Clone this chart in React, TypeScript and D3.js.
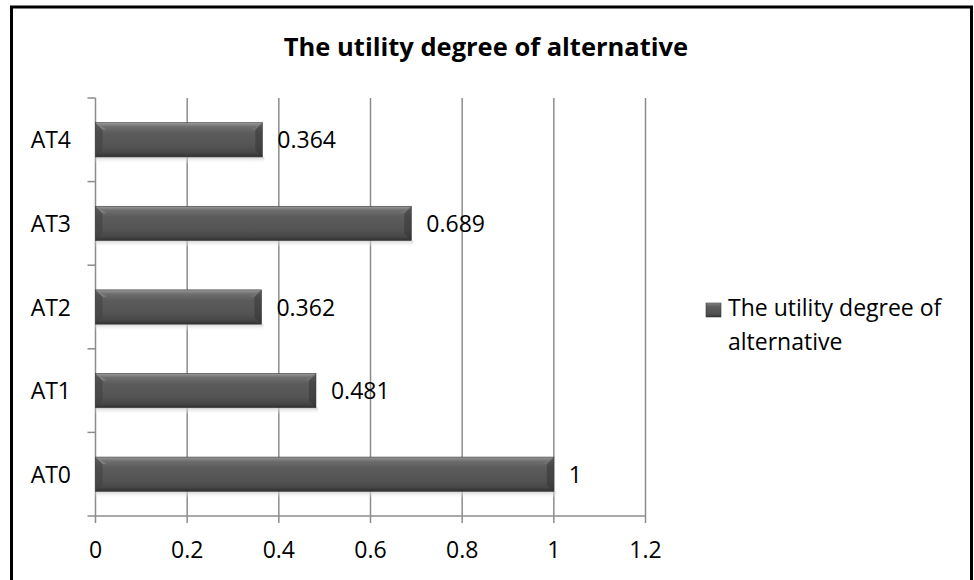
import React from "react";
import * as d3 from "d3";

const categories = ["AT0", "AT1", "AT2", "AT3", "AT4"];
const values = [1, 0.481, 0.362, 0.689, 0.364];
const valueLabels = ["1", "0.481", "0.362", "0.689", "0.364"];
const xTicks = [0, 0.2, 0.4, 0.6, 0.8, 1, 1.2];
const xTickLabels = ["0", "0.2", "0.4", "0.6", "0.8", "1", "1.2"];
const title = "The utility degree of alternative";
const legendLines = ["The utility degree of", "alternative"];

const W = 974;
const H = 580;
const FONT = "'Open Sans', Lato, sans-serif";
const LABEL_SIZE = 23;

export default function App() {
  const x = d3.scaleLinear().domain([0, 1.2]).range([95.5, 645.5]);
  const y = d3
    .scaleBand<string>()
    .domain([...categories].reverse())
    .range([98, 516])
    .paddingInner(0.59)
    .paddingOuter(0.295);
  const step = y.step();
  const bh = y.bandwidth();
  const grid = "#8c8c8c";
  const bev = 7;

  return (
    <svg width={W} height={H} style={{ position: "absolute", left: 0, top: 0 }} fontFamily={FONT}>
      <defs>
        <linearGradient id="barFill" x1="0" y1="0" x2="0" y2="1">
          <stop offset="0" stopColor="#9a9a9a" />
          <stop offset="0.12" stopColor="#6e6e6e" />
          <stop offset="0.3" stopColor="#5c5c5c" />
          <stop offset="0.7" stopColor="#535353" />
          <stop offset="0.88" stopColor="#474747" />
          <stop offset="1" stopColor="#303030" />
        </linearGradient>
        <linearGradient id="shadow" x1="0" y1="0" x2="0" y2="1">
          <stop offset="0" stopColor="#c8c8c8" stopOpacity="0.8" />
          <stop offset="1" stopColor="#ffffff" stopOpacity="0" />
        </linearGradient>
      </defs>
      <rect x={0} y={0} width={W} height={H} fill="#fff" />
      <rect x={11.5} y={7} width={960} height={600} fill="none" stroke="#000" strokeWidth={3} />

      <text x={486} y={56} textAnchor="middle" fontWeight="bold" fontSize={25.5} fill="#000">
        {title}
      </text>

      {/* vertical gridlines */}
      {xTicks.slice(1).map((t) => (
        <line key={"g" + t} x1={x(t)} x2={x(t)} y1={98} y2={523} stroke={grid} strokeWidth={1.5} />
      ))}
      {/* value axis baseline and category axis */}
      <line x1={x(0)} x2={x(1.2)} y1={516} y2={516} stroke={grid} strokeWidth={1.5} />
      <line x1={x(0)} x2={x(0)} y1={98} y2={523} stroke={grid} strokeWidth={1.5} />
      {[0, 1, 2, 3, 4, 5].map((i) => (
        <line key={"yt" + i} x1={87.5} x2={x(0)} y1={98 + i * step} y2={98 + i * step} stroke={grid} strokeWidth={1.5} />
      ))}

      {/* bars */}
      {categories.map((c, i) => {
        const y0 = y(c)!;
        const x0 = x(0);
        const x1 = x(values[i]);
        return (
          <g key={c}>
            <rect x={x0} y={y0 + bh} width={x1 - x0 + 2} height={7} fill="url(#shadow)" />
            <rect x={x0} y={y0} width={x1 - x0} height={bh} fill="url(#barFill)" stroke="#3a3a3a" strokeWidth={0.6} />
            <polygon points={`${x0},${y0} ${x0 + bev},${y0 + bev} ${x0 + bev},${y0 + bh - bev} ${x0},${y0 + bh}`} fill="#3f3f3f" opacity={0.55} />
            <polygon points={`${x0},${y0} ${x0 + bev * 1.6},${y0 + bev} ${x0 + bev},${y0 + bev}`} fill="#8a8a8a" opacity={0.7} />
            <polygon points={`${x1},${y0} ${x1 - bev},${y0 + bev} ${x1 - bev},${y0 + bh - bev} ${x1},${y0 + bh}`} fill="#2e2e2e" opacity={0.45} />
            <polygon points={`${x1},${y0} ${x1 - bev * 1.6},${y0 + bev} ${x1 - bev},${y0 + bev}`} fill="#7a7a7a" opacity={0.6} />
            <text x={x1 + 15} y={y0 + bh / 2 + 8.5} fontSize={LABEL_SIZE} fill="#000">
              {valueLabels[i]}
            </text>
            <text x={71} y={y0 + bh / 2 + 8.5} textAnchor="end" fontSize={LABEL_SIZE} fill="#000">
              {c}
            </text>
          </g>
        );
      })}

      {/* x tick labels */}
      {xTicks.map((t, i) => (
        <text key={"xl" + t} x={x(t)} y={558} textAnchor="middle" fontSize={LABEL_SIZE} fill="#000">
          {xTickLabels[i]}
        </text>
      ))}

      {/* legend */}
      <rect x={706} y={303} width={15} height={14} fill="url(#barFill)" stroke="#3a3a3a" strokeWidth={0.6} />
      <text x={728} y={316} fontSize={LABEL_SIZE} fill="#000">
        {legendLines[0]}
      </text>
      <text x={728} y={350} fontSize={LABEL_SIZE} fill="#000">
        {legendLines[1]}
      </text>
    </svg>
  );
}
